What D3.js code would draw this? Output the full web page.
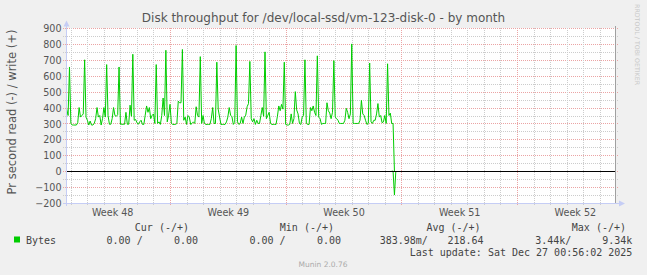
<!DOCTYPE html>
<html><head><meta charset="utf-8">
<script src="https://cdn.jsdelivr.net/npm/d3@7"></script>
<style>
html,body{margin:0;padding:0;background:#f0f0f0;}
svg{display:block;}
</style></head><body>
<svg id="chart" width="647" height="275"></svg>
<script>
// ---------- data ----------
const titleText = "Disk throughput for /dev/local-ssd/vm-123-disk-0 - by month";
const yAxisTitle = "Pr second read (-) / write (+)";
const sideText = "RRDTOOL / TOBI OETIKER";
const yTicks = [-200, -100, 0, 100, 200, 300, 400, 500, 600, 700, 800, 900];
const yMinorTicks = [-150, -50, 50, 150, 250, 350, 450, 550, 650, 750, 850];
const weekLabels = ["Week 48", "Week 49", "Week 50", "Week 51", "Week 52"];
const weekLabelDates = ["2025-11-27T12:00:00Z", "2025-12-04T12:00:00Z", "2025-12-11T12:00:00Z", "2025-12-18T12:00:00Z", "2025-12-25T12:00:00Z"];
const viewStart = "2025-11-24T17:40:00Z";
const viewEnd = "2025-12-27T23:04:00Z";
const dataStart = "2025-11-24T18:00:00Z";
const stepHours = 2;
// write (+) bytes per second, one row per day (12 x 2h)
const writeValues = [
  390, 350, 655, 300, 290, 290, 290, 290, 305, 400, 340, 350,
  360, 700, 340, 320, 290, 315, 290, 290, 300, 330, 400, 340,
  350, 290, 330, 400, 340, 670, 350, 295, 295, 330, 400, 350,
  345, 355, 655, 295, 295, 295, 295, 370, 295, 295, 415, 345,
  735, 320, 325, 305, 295, 310, 320, 294, 294, 352, 410, 370,
  400, 330, 350, 360, 300, 670, 300, 310, 294, 350, 460, 350,
  760, 310, 352, 420, 300, 294, 294, 294, 300, 440, 430, 430,
  765, 320, 340, 294, 350, 340, 294, 300, 310, 300, 405, 350,
  340, 720, 300, 350, 300, 294, 294, 294, 294, 330, 400, 300,
  300, 685, 390, 340, 294, 294, 294, 294, 310, 340, 400, 352,
  342, 294, 305, 790, 310, 294, 300, 340, 300, 340, 352, 405,
  425, 690, 330, 310, 330, 294, 320, 300, 300, 350, 400, 345,
  750, 330, 350, 370, 300, 294, 294, 294, 294, 345, 410, 380,
  420, 390, 685, 294, 290, 290, 295, 360, 300, 330, 500, 385,
  360, 300, 294, 340, 352, 700, 300, 294, 294, 400, 380, 410,
  370, 350, 725, 340, 330, 294, 300, 300, 300, 430, 380, 365,
  330, 370, 695, 340, 330, 320, 300, 300, 300, 300, 320, 395,
  370, 330, 360, 800, 300, 300, 300, 300, 300, 320, 445, 360,
  350, 320, 294, 300, 680, 310, 300, 320, 320, 360, 425, 340,
  350, 305, 310, 350, 300, 675, 350, 365, 300, 300, 0
];
// read (-) bytes per second, non-zero only at the very end
const readStartIndex = 236;
const readValues = [0, 0, -150, 0];
// legend
const legendHeaders = ["Cur (-/+)", "Min (-/+)", "Avg (-/+)", "Max (-/+)"];
const seriesName = "Bytes";
const legendValues = ["0.00 /", "0.00", "0.00 /", "0.00", "383.98m/", "218.64", "3.44k/", "9.34k"];
const lastUpdate = "Last update: Sat Dec 27 00:56:02 2025";
const footerText = "Munin 2.0.76";

// ---------- drawing ----------
const W = 647, H = 275;
const P = {left: 66.5, right: 615.5, top: 28, bottom: 203};
const sans = "'DejaVu Sans', sans-serif";
const mono = "'DejaVu Sans Mono', monospace";
const lineColor = "#00cc00";

const svg = d3.select("#chart");
const x = d3.scaleUtc().domain([new Date(viewStart), new Date(viewEnd)]).range([P.left, P.right]);
const y = d3.scaleLinear().domain([-200, 900]).range([P.bottom, P.top]);
const py = v => Math.round(y(v)) + 0.5;
const pxd = d => Math.round(x(d)) + 0.5;
const t0 = Date.parse(dataStart);
const timeAt = i => new Date(t0 + i * stepHours * 3600e3);

svg.append("rect").attr("width", W).attr("height", H).attr("fill", "#f0f0f0");
svg.append("rect").attr("x", P.left).attr("y", P.top).attr("width", P.right - P.left).attr("height", P.bottom - P.top).attr("fill", "#ffffff");

const grid = svg.append("g").attr("shape-rendering", "crispEdges");
const minorCol = "#cccccc", majorCol = "#eba4a4";
// horizontal grid
yMinorTicks.forEach(v => {
  grid.append("line").attr("x1", 63).attr("x2", 618).attr("y1", py(v)).attr("y2", py(v))
    .attr("stroke", minorCol).attr("stroke-dasharray", "1,1");
});
yTicks.forEach(v => {
  grid.append("line").attr("x1", 63).attr("x2", 618).attr("y1", py(v)).attr("y2", py(v))
    .attr("stroke", majorCol).attr("stroke-dasharray", "1,1");
});
// vertical grid: daily (grey) and weekly on Mondays (red)
const days = d3.utcDay.range(new Date(viewStart), new Date(viewEnd));
days.forEach(d => {
  const isMonday = d.getUTCDay() === 1;
  grid.append("line").attr("x1", pxd(d)).attr("x2", pxd(d)).attr("y1", P.top).attr("y2", 206)
    .attr("stroke", isMonday ? majorCol : minorCol).attr("stroke-dasharray", "1,1");
});

// data
const clip = svg.append("clipPath").attr("id", "clip").append("rect")
  .attr("x", P.left).attr("y", P.top - 2).attr("width", P.right - P.left).attr("height", P.bottom - P.top + 4);
const dataG = svg.append("g").attr("clip-path", "url(#clip)");
const line = d3.line().x(d => x(d.t)).y(d => y(d.v));
const writeData = writeValues.map((v, i) => ({t: timeAt(i), v}));
const readData = readValues.map((v, i) => ({t: timeAt(readStartIndex + i), v}));
dataG.append("path").datum(readData).attr("d", line).attr("fill", "none").attr("stroke", lineColor).attr("stroke-width", 1);
dataG.append("path").datum(writeData).attr("d", line).attr("fill", "none").attr("stroke", lineColor).attr("stroke-width", 1);

// zero line
svg.append("line").attr("x1", P.left).attr("x2", P.right).attr("y1", py(0)).attr("y2", py(0))
  .attr("stroke", "#000").attr("shape-rendering", "crispEdges");

// axes
const axisCol = "#c5cdf5";
svg.append("line").attr("x1", 66.5).attr("x2", 66.5).attr("y1", 206).attr("y2", 24)
  .attr("stroke", axisCol).attr("shape-rendering", "crispEdges");
svg.append("line").attr("x1", 63).attr("x2", 620).attr("y1", 203.5).attr("y2", 203.5)
  .attr("stroke", axisCol).attr("shape-rendering", "crispEdges");
svg.append("path").attr("d", "M63.5,26.5 L69.5,26.5 L66.5,20.5 Z").attr("fill", axisCol);
svg.append("path").attr("d", "M619,200.5 L619,206.5 L625,203.5 Z").attr("fill", axisCol);
// right frame line
svg.append("line").attr("x1", 615.5).attr("x2", 615.5).attr("y1", 26).attr("y2", 203)
  .attr("stroke", "#a0a0a0").attr("shape-rendering", "crispEdges");

// y labels via axis
const yAxis = d3.axisLeft(y).tickValues(yTicks).tickSize(0).tickPadding(0).tickFormat(d3.format("d"));
const yg = svg.append("g").attr("transform", "translate(61.5,0.5)").call(yAxis);
yg.select(".domain").remove();
yg.selectAll("text").attr("font-family", sans).attr("font-size", "9.6px").attr("fill", "#555");

// x labels via axis
const xAxis = d3.axisBottom(x).tickValues(weekLabelDates.map(s => new Date(s)))
  .tickFormat((d, i) => weekLabels[i]).tickSize(0).tickPadding(0);
const xg = svg.append("g").attr("transform", "translate(0,209)").call(xAxis);
xg.select(".domain").remove();
xg.selectAll("text").attr("font-family", sans).attr("font-size", "9.6px").attr("fill", "#555");

// titles
svg.append("text").attr("x", 323.5).attr("y", 22).attr("text-anchor", "middle")
  .attr("font-family", sans).attr("font-size", "12px").attr("fill", "#555").text(titleText);
svg.append("text").attr("transform", "translate(15.5,112) rotate(-90)").attr("text-anchor", "middle")
  .attr("font-family", sans).attr("font-size", "11.5px").attr("fill", "#555").text(yAxisTitle);
svg.append("text").attr("transform", "translate(635,4) rotate(90)").attr("text-anchor", "start")
  .attr("font-family", sans).attr("font-size", "6.3px").attr("fill", "#c8c8c8").text(sideText);

// legend
const headerEnds = [189, 334, 480.6, 626];
legendHeaders.forEach((h, i) => {
  svg.append("text").attr("x", headerEnds[i]).attr("y", 230.5).attr("text-anchor", "end")
    .attr("font-family", mono).attr("font-size", "10px").attr("fill", "#444").text(h);
});
svg.append("rect").attr("x", 14).attr("y", 236.5).attr("width", 6).attr("height", 6).attr("fill", lineColor);
svg.append("text").attr("x", 26).attr("y", 243.5).attr("font-family", mono).attr("font-size", "10px").attr("fill", "#444").text(seriesName);
const valueEnds = [142.7, 198, 285.5, 341, 427.8, 483.5, 571.4, 632.4];
legendValues.forEach((v, i) => {
  svg.append("text").attr("x", valueEnds[i]).attr("y", 243.5).attr("text-anchor", "end")
    .attr("font-family", mono).attr("font-size", "10px").attr("fill", "#444").text(v);
});
svg.append("text").attr("x", 632.4).attr("y", 255.5).attr("text-anchor", "end")
  .attr("font-family", mono).attr("font-size", "10px").attr("fill", "#444").text(lastUpdate);
svg.append("text").attr("x", 323).attr("y", 267).attr("text-anchor", "middle")
  .attr("font-family", sans).attr("font-size", "7.5px").attr("fill", "#aaa").text(footerText);
</script>
</body></html>
